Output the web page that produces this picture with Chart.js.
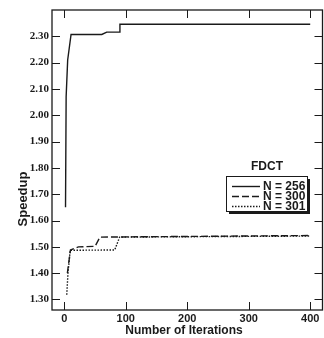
<!DOCTYPE html>
<html>
<head>
<meta charset="utf-8">
<script src="https://cdn.jsdelivr.net/npm/chart.js@4/dist/chart.umd.min.js"></script>
<style>
  html, body { margin: 0; padding: 0; background: #fff; }
  #wrap { width: 324px; height: 338px; }
</style>
</head>
<body>
<div id="wrap"><canvas id="speedupChart" width="324" height="338"></canvas></div>
<script>
const legendTitle = 'FDCT';
const xAxisTitle = 'Number of Iterations';
const yAxisTitle = 'Speedup';
const seriesLabels = ['N = 256', 'N = 300', 'N = 301'];

const n256Iter = [2, 3, 5.5, 11, 61, 69, 90, 90.5, 400];
const n256Speedup = [1.65, 2.07, 2.21, 2.307, 2.307, 2.316, 2.316, 2.346, 2.346];

const n300Iter = [5, 10, 23, 50, 58, 400];
const n300Speedup = [1.40, 1.488, 1.50, 1.502, 1.537, 1.543];

const n301Iter = [4, 6, 8.5, 9.5, 82, 90, 400];
const n301Speedup = [1.318, 1.40, 1.46, 1.487, 1.488, 1.537, 1.541];

const xTickValues = [0, 100, 200, 300, 400];
const xTickLabels = ['0', '100', '200', '300', '400'];
const yTickValues = [1.3, 1.4, 1.5, 1.6, 1.7, 1.8, 1.9, 2.0, 2.1, 2.2, 2.3];
const yTickLabels = ['1.30', '1.40', '1.50', '1.60', '1.70', '1.80', '1.90', '2.00', '2.10', '2.20', '2.30'];

const ink = '#1a1a1a';

function toPoints(xs, ys) {
  return xs.map((x, i) => ({ x, y: ys[i] }));
}

const frameAndTicks = {
  id: 'frameAndTicks',
  afterDatasetsDraw(chart) {
    const { ctx, chartArea: area, scales } = chart;
    const len = 8;

    ctx.save();
    ctx.strokeStyle = ink;
    ctx.lineWidth = 1.3;
    ctx.strokeRect(area.left, area.top, area.right - area.left, area.bottom - area.top);

    ctx.lineWidth = 1;
    ctx.beginPath();
    xTickValues.forEach((v) => {
      const px = Math.round(scales.x.getPixelForValue(v)) + 0.5;
      ctx.moveTo(px, area.bottom);
      ctx.lineTo(px, area.bottom - len);
      ctx.moveTo(px, area.top);
      ctx.lineTo(px, area.top + len);
    });
    yTickValues.forEach((v) => {
      const py = Math.round(scales.y.getPixelForValue(v)) + 0.5;
      ctx.moveTo(area.left, py);
      ctx.lineTo(area.left + len, py);
      ctx.moveTo(area.right, py);
      ctx.lineTo(area.right - len, py);
    });
    ctx.stroke();

    // axis titles
    ctx.fillStyle = ink;
    ctx.font = 'bold 12px "Liberation Sans", Arial, sans-serif';
    ctx.textAlign = 'center';
    ctx.textBaseline = 'middle';
    ctx.fillText(xAxisTitle, 184, 331);

    ctx.save();
    ctx.translate(23, 199);
    ctx.rotate(-Math.PI / 2);
    ctx.font = 'bold 13px "Liberation Sans", Arial, sans-serif';
    ctx.fillText(yAxisTitle, 0, 0);
    ctx.restore();

    // legend
    const box = { left: 226, top: 176, width: 81, height: 35 };
    ctx.fillStyle = ink;
    ctx.fillRect(box.left + 3, box.top + 3, box.width, box.height);
    ctx.fillStyle = '#fff';
    ctx.fillRect(box.left, box.top, box.width, box.height);
    ctx.strokeStyle = ink;
    ctx.lineWidth = 1;
    ctx.strokeRect(box.left + 0.5, box.top + 0.5, box.width, box.height);

    ctx.fillStyle = ink;
    ctx.font = 'bold 12px "Liberation Sans", Arial, sans-serif';
    ctx.textAlign = 'center';
    ctx.fillText(legendTitle, 267, 167);

    ctx.textAlign = 'left';
    chart.data.datasets.forEach((ds, i) => {
      const y = box.top + 10 + i * 10;
      ctx.save();
      ctx.strokeStyle = ds.borderColor;
      ctx.lineWidth = ds.borderWidth;
      ctx.setLineDash(ds.borderDash || []);
      ctx.beginPath();
      ctx.moveTo(232, y + 0.5);
      ctx.lineTo(260, y + 0.5);
      ctx.stroke();
      ctx.restore();
      ctx.fillText(ds.label, 263, y + 1);
    });

    ctx.restore();
  },
};

new Chart(document.getElementById('speedupChart'), {
  type: 'line',
  data: {
    datasets: [
      {
        label: seriesLabels[0],
        data: toPoints(n256Iter, n256Speedup),
        borderColor: ink,
        borderWidth: 1.4,
        borderDash: [],
      },
      {
        label: seriesLabels[1],
        data: toPoints(n300Iter, n300Speedup),
        borderColor: ink,
        borderWidth: 1.4,
        borderDash: [7, 3],
      },
      {
        label: seriesLabels[2],
        data: toPoints(n301Iter, n301Speedup),
        borderColor: ink,
        borderWidth: 1.4,
        borderDash: [1.5, 1.5],
      },
    ],
  },
  options: {
    responsive: false,
    animation: false,
    devicePixelRatio: 1,
    layout: { padding: { top: 10, right: 1.5, left: 0, bottom: 0 } },
    elements: {
      point: { radius: 0 },
      line: { tension: 0, fill: false },
    },
    plugins: {
      legend: { display: false },
      tooltip: { enabled: false },
    },
    scales: {
      x: {
        type: 'linear',
        min: -20,
        max: 420,
        grid: { display: false, drawTicks: false },
        border: { display: false },
        afterBuildTicks(scale) {
          scale.ticks = xTickValues.map((v) => ({ value: v }));
        },
        afterFit(scale) {
          scale.height = 28;
        },
        ticks: {
          autoSkip: false,
          maxRotation: 0,
          padding: 2,
          color: ink,
          font: { family: '"Liberation Sans", Arial, sans-serif', size: 11, weight: 'bold' },
          callback: (value, index) => xTickLabels[index],
        },
      },
      y: {
        type: 'linear',
        min: 1.26,
        max: 2.4,
        grid: { display: false, drawTicks: false },
        border: { display: false },
        afterBuildTicks(scale) {
          scale.ticks = yTickValues.map((v) => ({ value: v }));
        },
        afterFit(scale) {
          scale.width = 52;
        },
        ticks: {
          autoSkip: false,
          padding: 3,
          color: ink,
          font: { family: '"Liberation Serif", "Times New Roman", serif', size: 11, weight: 'bold' },
          callback: (value, index) => yTickLabels[index],
        },
      },
    },
  },
  plugins: [frameAndTicks],
});
</script>
</body>
</html>
